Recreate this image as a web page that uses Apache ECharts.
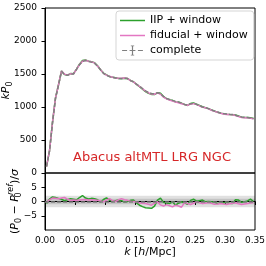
<!DOCTYPE html>
<html>
<head>
<meta charset="utf-8">
<script src="https://cdn.jsdelivr.net/npm/echarts@6/dist/echarts.min.js"></script>
<style>
html,body{margin:0;padding:0;background:#fff;}
#chart{width:266px;height:266px;}
</style>
</head>
<body>
<div id="chart"></div>
<script>
var kValues = [0.0025,0.0075,0.0125,0.0175,0.0225,0.0275,0.0325,0.0375,0.0425,0.0475,
0.0525,0.0575,0.0625,0.0675,0.0725,0.0775,0.0825,0.0875,0.0925,0.0975,
0.1025,0.1075,0.1125,0.1175,0.1225,0.1275,0.1325,0.1375,0.1425,0.1475,
0.1525,0.1575,0.1625,0.1675,0.1725,0.1775,0.1825,0.1875,0.1925,0.1975,
0.2025,0.2075,0.2125,0.2175,0.2225,0.2275,0.2325,0.2375,0.2425,0.2475,
0.2525,0.2575,0.2625,0.2675,0.2725,0.2775,0.2825,0.2875,0.2925,0.2975,
0.3025,0.3075,0.3125,0.3175,0.3225,0.3275,0.3325,0.3375,0.3425,0.3475];

var kP0Complete = [100,330,760,1130,1330,1540,1490,1480,1500,1500,
1570,1640,1690,1705,1690,1680,1665,1620,1565,1510,
1480,1460,1450,1440,1430,1428,1435,1430,1400,1380,
1345,1315,1280,1245,1220,1205,1198,1215,1200,1160,
1130,1115,1100,1085,1075,1060,1040,1030,1050,1055,
1040,1020,1000,990,975,955,940,925,910,900,
893,890,888,875,860,848,843,840,832,825];

var kP0IIP = [96,335,770,1138,1337,1545,1492,1484,1506,1505,
1574,1648,1703,1712,1695,1687,1671,1624,1564,1514,
1488,1463,1450,1442,1433,1430,1434,1430,1402,1383,
1342,1307,1269,1232,1206,1191,1188,1218,1207,1158,
1127,1111,1099,1077,1071,1059,1037,1024,1052,1060,
1041,1022,1003,989,975,954,938,921,907,898,
891,886,884,879,863,846,842,841,837,825];

var kP0Fiducial = [98,334,767,1137,1336,1547,1498,1485,1502,1503,
1572,1643,1694,1709,1693,1684,1668,1622,1566,1509,
1483,1466,1452,1440,1434,1434,1439,1432,1401,1380,
1344,1313,1276,1241,1214,1197,1194,1214,1193,1150,
1123,1106,1089,1077,1065,1048,1038,1026,1043,1051,
1039,1018,996,987,973,951,934,920,906,895,
887,885,884,872,855,842,838,836,829,823];

var residIIP = [-0.7,0.8,1.6,1.4,1.1,0.8,0.3,0.6,1.0,0.8,
0.6,1.4,2.1,1.2,0.9,1.1,1.0,0.6,-0.1,0.7,
1.3,0.5,0.0,0.3,0.5,0.3,-0.2,0.0,0.4,0.5,
-0.5,-1.3,-1.8,-2.2,-2.3,-2.4,-1.6,0.5,1.2,-0.3,
-0.5,-0.7,-0.1,-1.3,-0.6,-0.1,-0.5,-1.0,0.4,0.8,
0.1,0.3,0.5,-0.1,0.0,-0.1,-0.3,-0.7,-0.5,-0.4,
-0.3,-0.6,-0.7,0.6,0.5,-0.3,-0.1,0.2,0.8,0.0];

var residFiducial = [-0.4,0.6,1.2,1.1,1.0,1.2,1.4,0.8,0.4,0.5,
0.4,0.5,0.6,0.7,0.5,0.6,0.5,0.4,0.2,-0.1,
0.5,1.0,0.3,0.0,0.6,1.0,0.6,0.4,0.1,0.0,
-0.2,-0.4,-0.6,-0.7,-1.0,-1.3,-0.6,-0.1,-1.2,-1.6,
-1.1,-1.5,-1.9,-1.3,-1.6,-2.0,-0.4,-0.7,-1.1,-0.6,
-0.1,-0.4,-0.7,-0.5,-0.35,-0.6,-1.0,-0.9,-0.7,-0.9,
-1.07,-0.8,-0.6,-0.47,-0.8,-1.07,-0.9,-0.7,-0.5,-0.35];

var xTicks = [0, 0.05, 0.10, 0.15, 0.20, 0.25, 0.30, 0.35];
var yTicksTop = [0, 500, 1000, 1500, 2000, 2500];
var yTicksBottom = [-5, 0, 5];
var seriesNames = ['IIP + window', 'fiducial + window', 'complete'];
var titleText = 'Abacus altMTL LRG NGC';

function zip(a, b) { return a.map(function (v, i) { return [v, b[i]]; }); }

var FONT = 'DejaVu Sans';
var chart = echarts.init(document.getElementById('chart'), null, {renderer: 'canvas'});

var axisCommon = {
  axisLine: {show: true, lineStyle: {color: '#000', width: 1}},
  axisTick: {show: true, inside: false, length: 3.5, lineStyle: {color: '#000', width: 1}},
  splitLine: {show: false},
  axisLabel: {fontFamily: FONT, fontSize: 9, color: '#000'}
};

var lineIcon = 'path://M0,4.25H25V5.75H0Z';
var errIcon = 'path://M0,5.3H6V6.7H0Z M9,5.3H16V6.7H9Z M19,5.3H25V6.7H19Z M11.8,0H13.2V12H11.8Z M10.5,0H14.5V0.8H10.5Z M10.5,11.2H14.5V12H10.5Z';

var option = {
  animation: false,
  backgroundColor: '#fff',
  textStyle: {fontFamily: FONT},
  title: {
    text: titleText, left: 73, top: 151, padding: 0,
    textStyle: {fontFamily: FONT, fontSize: 13, fontWeight: 'normal', color: '#d62728'}
  },
  legend: {
    orient: 'vertical', left: 116, top: 11,
    itemWidth: 25, itemHeight: 10, itemGap: 4,
    padding: [4, 6, 4, 4],
    borderColor: '#d5d5d5', borderWidth: 1, borderRadius: 3,
    backgroundColor: 'rgba(255,255,255,0.8)',
    textStyle: {fontFamily: FONT, fontSize: 11, color: '#000'},
    data: [
      {name: seriesNames[0], icon: lineIcon},
      {name: seriesNames[1], icon: lineIcon},
      {name: seriesNames[2], icon: errIcon}
    ]
  },
  grid: [
    {left: 45, top: 8, width: 210, height: 165, show: true, borderColor: '#000', borderWidth: 1, backgroundColor: 'transparent', outerBoundsMode: 'none', containLabel: false},
    {left: 45, top: 173, width: 210, height: 57, show: true, borderColor: '#000', borderWidth: 1, backgroundColor: 'transparent', outerBoundsMode: 'none', containLabel: false}
  ],
  xAxis: [
    {gridIndex: 0, type: 'value', min: 0, max: 0.35, interval: 0.05,
     axisLine: {show: false}, axisTick: {show: false}, axisLabel: {show: false}, splitLine: {show: false}},
    Object.assign({}, axisCommon, {
      gridIndex: 1, type: 'value', min: 0, max: 0.35, interval: 0.05,
      axisLabel: Object.assign({}, axisCommon.axisLabel, {margin: 6, customValues: xTicks,
        formatter: function (v) { return v.toFixed(2); }}),
      axisTick: Object.assign({}, axisCommon.axisTick, {customValues: xTicks}),
      name: '{i|k} [{i|h}/Mpc]', nameLocation: 'middle', nameGap: 17, nameMoveOverlap: false,
      nameTextStyle: {fontFamily: FONT, fontSize: 11, color: '#000',
        rich: {i: {fontFamily: FONT, fontSize: 11, fontStyle: 'italic', color: '#000'}}}
    })
  ],
  yAxis: [
    Object.assign({}, axisCommon, {
      gridIndex: 0, type: 'value', min: 0, max: 2500, interval: 500,
      axisLabel: Object.assign({}, axisCommon.axisLabel, {margin: 8, customValues: yTicksTop,
        formatter: function (v) { return String(v); }}),
      axisTick: Object.assign({}, axisCommon.axisTick, {customValues: yTicksTop}),
      name: '{i|kP}{s|0}', nameLocation: 'middle', nameGap: 31, nameRotate: 90, nameMoveOverlap: false,
      nameTextStyle: {fontFamily: FONT, fontSize: 11, color: '#000', lineHeight: 16,
        rich: {
          i: {fontFamily: FONT, fontSize: 11, fontStyle: 'italic', color: '#000', lineHeight: 16},
          s: {fontFamily: FONT, fontSize: 8, color: '#000', verticalAlign: 'bottom', lineHeight: 9}
        }}
    }),
    Object.assign({}, axisCommon, {
      gridIndex: 1, type: 'value', min: -10, max: 10, interval: 5,
      axisLabel: Object.assign({}, axisCommon.axisLabel, {margin: 8, customValues: yTicksBottom,
        formatter: function (v) { return v < 0 ? '\u2212' + (-v) : String(v); }}),
      axisTick: Object.assign({}, axisCommon.axisTick, {customValues: yTicksBottom}),
      name: '{n|(}{i|P}{s|0}{n| \u2212 }{i|P}{z|0}{p|ref}{n|)/}{i|\u03c3}', nameLocation: 'middle', nameGap: 22, nameRotate: 90, nameMoveOverlap: false,
      nameTextStyle: {fontFamily: FONT, fontSize: 11, color: '#000', lineHeight: 16,
        rich: {
          n: {fontFamily: FONT, fontSize: 11, color: '#000', lineHeight: 16},
          i: {fontFamily: FONT, fontSize: 11, fontStyle: 'italic', color: '#000', lineHeight: 16},
          s: {fontFamily: FONT, fontSize: 8, color: '#000', verticalAlign: 'bottom', lineHeight: 9},
          z: {fontFamily: FONT, fontSize: 8, color: '#000', verticalAlign: 'bottom', lineHeight: 9, width: 0.01},
          p: {fontFamily: FONT, fontSize: 8, fontStyle: 'italic', color: '#000', verticalAlign: 'top', lineHeight: 9}
        }}
    })
  ],
  series: [
    {name: 'bands', type: 'line', xAxisIndex: 1, yAxisIndex: 1, data: [], silent: true, z: 1,
     markArea: {silent: true, itemStyle: {color: 'rgba(0,0,0,0.12)'},
       data: [[{yAxis: -2}, {yAxis: 2}], [{yAxis: -1}, {yAxis: 1}]]},
     markLine: {silent: true, symbol: 'none', label: {show: false},
       lineStyle: {color: '#7f7f7f', type: [4, 2], width: 1.5},
       data: [{yAxis: 0}]}},
    {name: seriesNames[0], type: 'line', xAxisIndex: 0, yAxisIndex: 0, data: zip(kValues, kP0IIP),
     symbol: 'none', color: '#2ca02c', lineStyle: {color: '#2ca02c', width: 1.5}, z: 2},
    {name: seriesNames[1], type: 'line', xAxisIndex: 0, yAxisIndex: 0, data: zip(kValues, kP0Fiducial),
     symbol: 'none', color: '#e377c2', lineStyle: {color: '#e377c2', width: 1.5}, z: 3},
    {name: seriesNames[2], type: 'line', xAxisIndex: 0, yAxisIndex: 0, data: zip(kValues, kP0Complete),
     symbol: 'none', color: '#7f7f7f', lineStyle: {color: '#7f7f7f', width: 1.5, type: [4, 2]}, z: 4},
    {name: 'resid IIP', type: 'line', xAxisIndex: 1, yAxisIndex: 1, data: zip(kValues, residIIP),
     symbol: 'none', lineStyle: {color: '#2ca02c', width: 1.5}, z: 3},
    {name: 'resid fiducial', type: 'line', xAxisIndex: 1, yAxisIndex: 1, data: zip(kValues, residFiducial),
     symbol: 'none', lineStyle: {color: '#e377c2', width: 1.5}, z: 4}
  ]
};
chart.setOption(option);
</script>
</body>
</html>
